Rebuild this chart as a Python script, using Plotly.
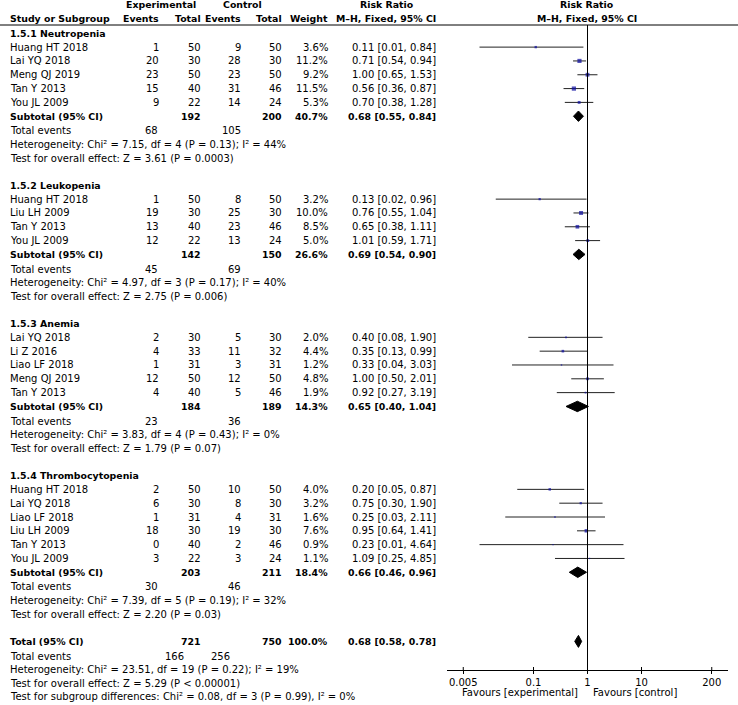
import math
import plotly.graph_objects as go

# ---------------- data ----------------
group_names = ["1.5.1 Neutropenia", "1.5.2 Leukopenia", "1.5.3 Anemia", "1.5.4 Thrombocytopenia"]

neu_study = ["Huang HT 2018", "Lai YQ 2018", "Meng QJ 2019", "Tan Y 2013", "You JL 2009"]
neu_exp_ev = [1, 20, 23, 15, 9]
neu_exp_tot = [50, 30, 50, 40, 22]
neu_ctl_ev = [9, 28, 23, 31, 14]
neu_ctl_tot = [50, 30, 50, 46, 24]
neu_weight = [3.6, 11.2, 9.2, 11.5, 5.3]
neu_rr = [0.11, 0.71, 1.00, 0.56, 0.70]
neu_lo = [0.01, 0.54, 0.65, 0.36, 0.38]
neu_hi = [0.84, 0.94, 1.53, 0.87, 1.28]

leu_study = ["Huang HT 2018", "Liu LH 2009", "Tan Y 2013", "You JL 2009"]
leu_exp_ev = [1, 19, 13, 12]
leu_exp_tot = [50, 30, 40, 22]
leu_ctl_ev = [8, 25, 23, 13]
leu_ctl_tot = [50, 30, 46, 24]
leu_weight = [3.2, 10.0, 8.5, 5.0]
leu_rr = [0.13, 0.76, 0.65, 1.01]
leu_lo = [0.02, 0.55, 0.38, 0.59]
leu_hi = [0.96, 1.04, 1.11, 1.71]

ane_study = ["Lai YQ 2018", "Li Z 2016", "Liao LF 2018", "Meng QJ 2019", "Tan Y 2013"]
ane_exp_ev = [2, 4, 1, 12, 4]
ane_exp_tot = [30, 33, 31, 50, 40]
ane_ctl_ev = [5, 11, 3, 12, 5]
ane_ctl_tot = [30, 32, 31, 50, 46]
ane_weight = [2.0, 4.4, 1.2, 4.8, 1.9]
ane_rr = [0.40, 0.35, 0.33, 1.00, 0.92]
ane_lo = [0.08, 0.13, 0.04, 0.50, 0.27]
ane_hi = [1.90, 0.99, 3.03, 2.01, 3.19]

thr_study = ["Huang HT 2018", "Lai YQ 2018", "Liao LF 2018", "Liu LH 2009", "Tan Y 2013", "You JL 2009"]
thr_exp_ev = [2, 6, 1, 18, 0, 3]
thr_exp_tot = [50, 30, 31, 30, 40, 22]
thr_ctl_ev = [10, 8, 4, 19, 2, 3]
thr_ctl_tot = [50, 30, 31, 30, 46, 24]
thr_weight = [4.0, 3.2, 1.6, 7.6, 0.9, 1.1]
thr_rr = [0.20, 0.75, 0.25, 0.95, 0.23, 1.09]
thr_lo = [0.05, 0.30, 0.03, 0.64, 0.01, 0.25]
thr_hi = [0.87, 1.90, 2.11, 1.41, 4.64, 4.85]

sub_exp_tot = [192, 142, 184, 203]
sub_ctl_tot = [200, 150, 189, 211]
sub_weight = [40.7, 26.6, 14.3, 18.4]
sub_rr = [0.68, 0.69, 0.65, 0.66]
sub_lo = [0.55, 0.54, 0.40, 0.46]
sub_hi = [0.84, 0.90, 1.04, 0.96]
sub_exp_events = [68, 45, 23, 30]
sub_ctl_events = [105, 69, 36, 46]
sub_chi2 = ["7.15", "4.97", "3.83", "7.39"]
sub_df = [4, 3, 4, 5]
sub_p_het = ["0.13", "0.17", "0.43", "0.19"]
sub_i2 = [44, 40, 0, 32]
sub_z = ["3.61", "2.75", "1.79", "2.20"]
sub_p_z = ["P = 0.0003", "P = 0.006", "P = 0.07", "P = 0.03"]

total_exp_tot = 721
total_ctl_tot = 750
total_weight = 100.0
total_rr = 0.68
total_lo = 0.58
total_hi = 0.78
total_exp_events = 166
total_ctl_events = 256
total_chi2 = "23.51"
total_df = 19
total_p_het = "0.22"
total_i2 = 19
total_z = "5.29"
total_p_z = "P &lt; 0.00001"
diff_chi2 = "0.08"
diff_df = 3
diff_p = "0.99"
diff_i2 = 0

axis_ticks = [0.005, 0.1, 1, 10, 200]
axis_ticktext = ["0.005", "0.1", "1", "10", "200"]

groups = [
    (neu_study, neu_exp_ev, neu_exp_tot, neu_ctl_ev, neu_ctl_tot, neu_weight, neu_rr, neu_lo, neu_hi),
    (leu_study, leu_exp_ev, leu_exp_tot, leu_ctl_ev, leu_ctl_tot, leu_weight, leu_rr, leu_lo, leu_hi),
    (ane_study, ane_exp_ev, ane_exp_tot, ane_ctl_ev, ane_ctl_tot, ane_weight, ane_rr, ane_lo, ane_hi),
    (thr_study, thr_exp_ev, thr_exp_tot, thr_ctl_ev, thr_ctl_tot, thr_weight, thr_rr, thr_lo, thr_hi),
]

# ---------------- layout constants ----------------
W, H = 738, 705
FONT = "DejaVu Sans"
FS = 10
FSB = 9.4
ROW0 = 33.3
PITCH = 13.82
HEAD1_Y = 4.8
HEAD2_Y = 18.3
HEAD_LINE_Y = 25
AXIS_Y = 670

X_NAME = 9
X_EXP_EV = 160
X_EXP_TOT = 202
X_CTL_EV = 242
X_CTL_TOT = 283
X_WT = 329
X_CI = 437
X_TE_EXP = 159
X_TE_CTL = 242
X_TOTTE_EXP = 185
X_TOTTE_CTL = 231

ann = []


def txt(x, y, s, anchor="left", bold=False, size=None):
    ann.append(dict(
        x=x + (1 if anchor == "right" else (-1 if anchor == "left" else 0)), y=y,
        xref="x", yref="y", text=("<b>%s</b>" % s) if bold else s,
        showarrow=False, xanchor=anchor, yanchor="middle",
        font=dict(family=FONT, size=size or (FSB if bold else FS), color="#000000"),
    ))


def ci_text(r, lo, hi):
    return "%.2f [%.2f, %.2f]" % (r, lo, hi)


# header
txt(160.5, HEAD1_Y, "Experimental", "center", True)
txt(242, HEAD1_Y, "Control", "center", True)
txt(387, HEAD1_Y, "Risk Ratio", "center", True)
txt(587, HEAD1_Y, "Risk Ratio", "center", True)
txt(X_NAME, HEAD2_Y, "Study or Subgroup", "left", True)
txt(X_EXP_EV, HEAD2_Y, "Events", "right", True)
txt(X_EXP_TOT, HEAD2_Y, "Total", "right", True)
txt(X_CTL_EV, HEAD2_Y, "Events", "right", True)
txt(X_CTL_TOT, HEAD2_Y, "Total", "right", True)
txt(X_WT, HEAD2_Y, "Weight", "right", True)
txt(X_CI, HEAD2_Y, "M–H, Fixed, 95% CI", "right", True)
txt(587, HEAD2_Y, "M–H, Fixed, 95% CI", "center", True)

# forest traces data
ci_x, ci_y = [], []
sq_x, sq_y, sq_s = [], [], []
diamonds = []

row = 0
for gi, g in enumerate(groups):
    study, e_ev, e_tot, c_ev, c_tot, wt, rr, lo, hi = g
    y = ROW0 + row * PITCH
    txt(X_NAME, y, group_names[gi], "left", True)
    row += 1
    for k in range(len(study)):
        y = ROW0 + row * PITCH
        txt(X_NAME, y, study[k])
        txt(X_EXP_EV, y, str(e_ev[k]), "right")
        txt(X_EXP_TOT, y, str(e_tot[k]), "right")
        txt(X_CTL_EV, y, str(c_ev[k]), "right")
        txt(X_CTL_TOT, y, str(c_tot[k]), "right")
        txt(X_WT, y, "%.1f%%" % wt[k], "right")
        txt(X_CI, y, ci_text(rr[k], lo[k], hi[k]), "right")
        ci_x += [lo[k], hi[k], None]
        ci_y += [y, y, None]
        sq_x.append(rr[k])
        sq_y.append(y)
        sq_s.append(1.25 * math.sqrt(wt[k]))
        row += 1
    y = ROW0 + row * PITCH
    txt(X_NAME, y, "Subtotal (95% CI)", "left", True)
    txt(X_EXP_TOT, y, str(sub_exp_tot[gi]), "right", True)
    txt(X_CTL_TOT, y, str(sub_ctl_tot[gi]), "right", True)
    txt(X_WT, y, "%.1f%%" % sub_weight[gi], "right", True)
    txt(X_CI, y, ci_text(sub_rr[gi], sub_lo[gi], sub_hi[gi]), "right", True)
    diamonds.append((sub_rr[gi], sub_lo[gi], sub_hi[gi], y, 5.2))
    row += 1
    y = ROW0 + row * PITCH + 0.8
    txt(X_NAME, y, "Total events")
    txt(X_TE_EXP, y, str(sub_exp_events[gi]), "right")
    txt(X_TE_CTL, y, str(sub_ctl_events[gi]), "right")
    row += 1
    y = ROW0 + row * PITCH + 0.8
    txt(X_NAME, y, "Heterogeneity: Chi² = %s, df = %d (P = %s); I² = %d%%" %
        (sub_chi2[gi], sub_df[gi], sub_p_het[gi], sub_i2[gi]))
    row += 1
    y = ROW0 + row * PITCH + 0.8
    txt(X_NAME, y, "Test for overall effect: Z = %s (%s)" % (sub_z[gi], sub_p_z[gi]))
    row += 2

# overall
y = ROW0 + row * PITCH
txt(X_NAME, y, "Total (95% CI)", "left", True)
txt(X_EXP_TOT, y, str(total_exp_tot), "right", True)
txt(X_CTL_TOT, y, str(total_ctl_tot), "right", True)
txt(X_WT, y, "%.1f%%" % total_weight, "right", True)
txt(X_CI, y, ci_text(total_rr, total_lo, total_hi), "right", True)
diamonds.append((total_rr, total_lo, total_hi, y, 6.0))
row += 1
y = ROW0 + row * PITCH + 0.8
txt(X_NAME, y, "Total events")
txt(X_TOTTE_EXP, y, str(total_exp_events), "right")
txt(X_TOTTE_CTL, y, str(total_ctl_events), "right")
row += 1
y = ROW0 + row * PITCH + 0.8
txt(X_NAME, y, "Heterogeneity: Chi² = %s, df = %d (P = %s); I² = %d%%" %
    (total_chi2, total_df, total_p_het, total_i2))
row += 1
y = ROW0 + row * PITCH + 0.8
txt(X_NAME, y, "Test for overall effect: Z = %s (%s)" % (total_z, total_p_z))
row += 1
y = ROW0 + row * PITCH + 0.3
txt(X_NAME, y, "Test for subgroup differences: Chi² = %s, df = %d (P = %s), I² = %d%%" %
    (diff_chi2, diff_df, diff_p, diff_i2))

# favours labels
txt(579, 692.5, "Favours [experimental]", "right")
txt(592, 692.5, "Favours [control]", "left")

fig = go.Figure()

fig.add_trace(go.Scatter(x=ci_x, y=ci_y, xaxis="x2", yaxis="y", mode="lines",
                         line=dict(color="#222222", width=1), hoverinfo="skip", showlegend=False))
fig.add_trace(go.Scatter(x=sq_x, y=sq_y, xaxis="x2", yaxis="y", mode="markers",
                         marker=dict(symbol="square", size=sq_s, color="#0a0aa0", line=dict(width=0)),
                         hoverinfo="skip", showlegend=False))
for (r, lo, hi, yy, dh) in diamonds:
    fig.add_trace(go.Scatter(x=[lo, r, hi, r, lo], y=[yy, yy - dh, yy, yy + dh, yy],
                             xaxis="x2", yaxis="y", mode="lines", fill="toself",
                             fillcolor="#000000", line=dict(color="#000000", width=1),
                             hoverinfo="skip", showlegend=False))

shapes = [
    dict(type="line", xref="paper", yref="y", x0=0, x1=1, y0=HEAD_LINE_Y, y1=HEAD_LINE_Y,
         line=dict(color="#000000", width=1)),
    dict(type="line", xref="x2", yref="y", x0=1, x1=1, y0=HEAD_LINE_Y, y1=AXIS_Y,
         line=dict(color="#000000", width=1)),
]
# upper half of the tick marks (ticks straddle the axis line in the original)
for tv in axis_ticks:
    shapes.append(dict(type="line", xref="x2", yref="y", x0=tv, x1=tv, y0=AXIS_Y - 3, y1=AXIS_Y,
                       line=dict(color="#000000", width=1)))

fig.update_layout(
    width=W, height=H,
    margin=dict(l=0, r=0, t=0, b=0),
    paper_bgcolor="white", plot_bgcolor="white",
    showlegend=False,
    xaxis=dict(range=[0, W], domain=[0, 1], visible=False, fixedrange=True),
    yaxis=dict(range=[H, 0], domain=[0, 1], visible=False, fixedrange=True),
    xaxis2=dict(type="log", domain=[447 / W, 728 / W],
                range=[math.log10(0.0025), math.log10(400)],
                anchor="free", position=(H - AXIS_Y) / H,
                showline=True, linecolor="#000000", linewidth=1,
                ticks="outside", ticklen=3, tickcolor="#000000", tickwidth=1,
                tickvals=axis_ticks, ticktext=axis_ticktext,
                tickfont=dict(family=FONT, size=FS, color="#000000"),
                showgrid=False, zeroline=False, fixedrange=True),
    annotations=ann,
    shapes=shapes,
)

fig.write_html("out.html", config={"displayModeBar": False},
               post_script="document.body.style.margin='0';")
